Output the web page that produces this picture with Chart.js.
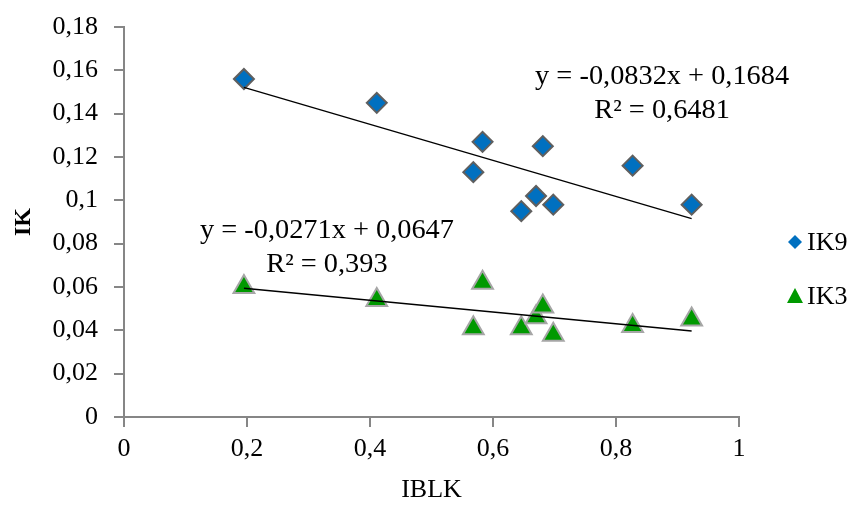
<!DOCTYPE html>
<html>
<head>
<meta charset="utf-8">
<script src="https://cdn.jsdelivr.net/npm/chart.js@4/dist/chart.umd.min.js"></script>
<style>
  body { margin: 0; background: #fff; }
  #wrap { width: 856px; height: 506px; }
</style>
</head>
<body>
<div id="wrap"><canvas id="ikChart"></canvas></div>
<script>
// values
const iblk = [0.195, 0.411, 0.568, 0.583, 0.646, 0.670, 0.681, 0.698, 0.827, 0.923];
const ik9 = [0.156, 0.145, 0.113, 0.127, 0.095, 0.102, 0.125, 0.098, 0.116, 0.098];
const ik3 = [0.060, 0.054, 0.041, 0.062, 0.041, 0.046, 0.051, 0.038, 0.042, 0.045];

// trend lines as printed on the chart: [slope, intercept]
const trendIK9 = [-0.0832, 0.1684];
const trendIK3 = [-0.0271, 0.0647];
const labelIK9 = ['y = -0,0832x + 0,1684', 'R² = 0,6481'];
const labelIK3 = ['y = -0,0271x + 0,0647', 'R² = 0,393'];

const yTicks = [0, 0.02, 0.04, 0.06, 0.08, 0.1, 0.12, 0.14, 0.16, 0.18];
const xTicks = [0, 0.2, 0.4, 0.6, 0.8, 1];

const serif = '"Liberation Serif", "Times New Roman", serif';
const axisGray = '#868686';

function toPoints(xs, ys) {
    return xs.map((x, i) => ({ x: x, y: ys[i] }));
}

function trendPoints(xs, coef) {
    const lo = Math.min(...xs);
    const hi = Math.max(...xs);
    return [
        { x: lo, y: coef[0] * lo + coef[1] },
        { x: hi, y: coef[0] * hi + coef[1] }
    ];
}

function commaLabel(value) {
    return String(Math.round(value * 100) / 100).replace('.', ',');
}

// equation text next to each trend line
const trendLabels = {
    id: 'trendLabels',
    afterDatasetsDraw(chart) {
        const ctx = chart.ctx;
        const xs = chart.scales.x;
        const ys = chart.scales.y;
        const groups = [
            { lines: labelIK9, x: 0.875, y: 0.157 },
            { lines: labelIK3, x: 0.33, y: 0.0858 }
        ];
        ctx.save();
        ctx.fillStyle = '#000';
        ctx.font = '27px ' + serif;
        ctx.textAlign = 'center';
        ctx.textBaseline = 'middle';
        groups.forEach(g => {
            const px = xs.getPixelForValue(g.x);
            const py = ys.getPixelForValue(g.y);
            g.lines.forEach((line, i) => {
                ctx.save();
                ctx.translate(px, py + i * 34);
                ctx.scale(1.05, 1);
                ctx.fillText(line, 0, 0);
                ctx.restore();
            });
        });
        ctx.restore();
    }
};

// legend on the right, Excel style
const sideLegend = {
    id: 'sideLegend',
    afterDraw(chart) {
        const ctx = chart.ctx;
        const items = chart.data.datasets.filter(d => d.inLegend);
        ctx.save();
        ctx.font = '26px ' + serif;
        ctx.textAlign = 'left';
        ctx.textBaseline = 'middle';
        items.forEach((d, i) => {
            const cx = 795;
            const cy = 242 + i * 54;
            ctx.fillStyle = d.backgroundColor;
            ctx.beginPath();
            if (d.pointStyle === 'rectRot') {
                ctx.moveTo(cx, cy - 7);
                ctx.lineTo(cx + 7, cy);
                ctx.lineTo(cx, cy + 7);
                ctx.lineTo(cx - 7, cy);
            } else {
                ctx.moveTo(cx, cy - 8);
                ctx.lineTo(cx + 8, cy + 7);
                ctx.lineTo(cx - 8, cy + 7);
            }
            ctx.closePath();
            ctx.fill();
            ctx.fillStyle = '#000';
            ctx.fillText(d.label, 807, cy + 1);
        });
        ctx.restore();
    }
};

const ctx = document.getElementById('ikChart').getContext('2d');
const ikChart = new Chart(ctx, {
    type: 'scatter',
    data: {
        datasets: [
            {
                label: 'IK9',
                data: toPoints(iblk, ik9),
                pointStyle: 'rectRot',
                pointRadius: 10,
                backgroundColor: '#0070C0',
                borderColor: '#5F5F5F',
                borderWidth: 2,
                order: 2,
                inLegend: true
            },
            {
                label: 'IK3',
                data: toPoints(iblk, ik3),
                pointStyle: 'triangle',
                pointRadius: 12,
                backgroundColor: '#009900',
                borderColor: '#A6A6A6',
                borderWidth: 2,
                order: 2,
                inLegend: true
            },
            {
                label: 'trend IK9',
                type: 'line',
                data: trendPoints(iblk, trendIK9),
                borderColor: '#000',
                borderWidth: 1.3,
                pointRadius: 0,
                order: 1
            },
            {
                label: 'trend IK3',
                type: 'line',
                data: trendPoints(iblk, trendIK3),
                borderColor: '#000',
                borderWidth: 1.3,
                pointRadius: 0,
                order: 1
            }
        ]
    },
    options: {
        responsive: true,
        maintainAspectRatio: false,
        animation: false,
        layout: {
            padding: { left: 0, right: 117, top: 27, bottom: 0 }
        },
        plugins: {
            legend: { display: false },
            tooltip: { enabled: false }
        },
        scales: {
            x: {
                type: 'linear',
                min: 0,
                max: 1,
                afterBuildTicks: scale => { scale.ticks = xTicks.map(v => ({ value: v })); },
                afterFit: scale => { scale.height = 89; },
                border: { color: axisGray, width: 2 },
                grid: {
                    drawOnChartArea: false,
                    drawTicks: true,
                    tickLength: 10,
                    color: axisGray,
                    lineWidth: 2
                },
                ticks: {
                    callback: commaLabel,
                    color: '#000',
                    padding: 7,
                    maxRotation: 0,
                    font: { family: serif, size: 26 }
                },
                title: {
                    display: true,
                    text: 'IBLK',
                    color: '#000',
                    padding: { top: 1, bottom: 0 },
                    font: { family: serif, size: 26 }
                }
            },
            y: {
                min: 0,
                max: 0.18,
                afterBuildTicks: scale => { scale.ticks = yTicks.map(v => ({ value: v })); },
                afterFit: scale => { scale.width = 124; scale.paddingTop = 0; },
                border: { color: axisGray, width: 2 },
                grid: {
                    drawOnChartArea: false,
                    drawTicks: true,
                    tickLength: 10,
                    color: axisGray,
                    lineWidth: 2
                },
                ticks: {
                    callback: commaLabel,
                    color: '#000',
                    padding: 16,
                    font: { family: serif, size: 26 }
                },
                title: {
                    display: true,
                    text: 'IK',
                    color: '#000',
                    padding: { top: 9, bottom: 0 },
                    font: { family: serif, size: 24, weight: 'bold' }
                }
            }
        }
    },
    plugins: [trendLabels, sideLegend]
});
</script>
</body>
</html>
